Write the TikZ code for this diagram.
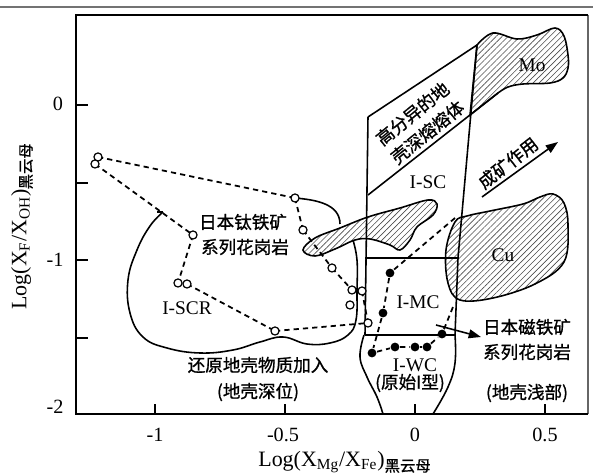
\documentclass[tikz,border=0pt]{standalone}
\usepackage{fontspec}
\setmainfont{Liberation Serif}
\newfontfamily\cjk[FakeBold=1]{Noto Sans CJK SC}
\usetikzlibrary{patterns.meta,arrows.meta}

\begin{document}
\begin{tikzpicture}[x=0.02cm, y=-0.02cm, line width=0.9pt,
  hatch/.style={pattern={Lines[angle=45,distance=2.4pt,line width=0.35pt]}, pattern color=black!70},
  opnode/.style={circle, draw, fill=white, line width=0.7pt, inner sep=0pt, minimum size=4.6pt},
  filnode/.style={circle, fill=black, inner sep=0pt, minimum size=5pt},
  trend/.style={dash pattern=on 3pt off 2.3pt, line width=1pt},
  zh/.style={font=\cjk\fontsize{10}{12}\selectfont, inner sep=0pt},
  field/.style={font=\fontsize{11}{13}\selectfont, inner sep=0pt},
  num/.style={font=\fontsize{11.5}{13}\selectfont, inner sep=0pt}]
  \useasboundingbox (0,0) rectangle (593,473);

  % page rule and frame
  \draw[black!55, line width=0.8pt] (0,7) -- (593,7);
  \draw[black!60, line width=0.6pt] (588,15) -- (588,414);
  \draw[line width=1.6pt] (588,414) -- (76,414) -- (76,15) -- (588,15);
  \foreach \y in {105,183,260,338} \draw (76,\y) -- (88,\y);
  \foreach \x in {155,285,415,545} \draw (\x,414) -- (\x,404);

  % axis numbers
  \node[num] (y0) at (58,104) {0};
  \node[num] (y1) at (55,260) {-1};
  \node[num] (y2) at (55,407) {-2};
  \foreach \x/\t [count=\i] in {155/-1, 283/-0.5, 415/0, 545/0.5}
    \node[num] (x\i) at (\x,435) {\t};
  \node[font=\fontsize{12.5}{14}\selectfont] (xlab) at (345,462)
    {Log(X\textsubscript{Mg}/X\textsubscript{Fe})\textsubscript{\cjk 黑云母}};
  \node[font=\fontsize{12.5}{14}\selectfont, rotate=90] (ylab) at (22,226)
    {Log(X\textsubscript{F}/X\textsubscript{OH})\textsubscript{\cjk 黑云母}};

  % hatched fields
  \draw[hatch] plot[smooth, tension=0.6] coordinates {(477,45) (493,33) (517,39)
    (537,35) (555,28) (564,36) (568,55) (568,68) (563,78) (550,83) (523,84)
    (508,87) (498,93)} -- (470,115) -- cycle;
  \draw[hatch] plot[smooth cycle, tension=0.6] coordinates {(455,222) (467,216)
    (490,211) (523,204) (540,197) (553,194) (564,203) (568,225) (564,262)
    (535,284) (493,298) (460,300) (448,283) (446,250)};
  \draw[hatch] plot[smooth cycle, tension=0.6] coordinates {(303,250) (315,238)
    (340,228) (368,217) (400,208) (428,200) (437,204) (433,215) (417,227)
    (410,240) (400,250) (390,245) (370,239) (355,240) (335,249) (315,256)};

  % field boundaries
  \draw (368,117) -- (365,335);
  \draw (477,45) -- (458,258) -- (455,335);
  \draw (368,117) -- (477,45);
  \draw (368,195) -- (498,93);
  \draw (365,258) -- (458,258);
  \draw (365,335) -- (455,335);
  \draw plot[smooth, tension=0.7] coordinates {(364,335) (360,357) (367,377) (377,397) (383,414)};
  \draw plot[smooth, tension=0.7] coordinates {(455,335) (455,363) (448,387) (433,414)};
  \draw (157,212) -- (163,212);
  \draw plot[smooth, tension=0.7] coordinates {(163,212) (150,226) (137,250)
    (128,280) (130,313) (143,337) (167,348) (200,353) (233,350) (260,342)
    (283,337) (307,344) (330,343) (348,335) (356,320) (357,290) (357,260) (353,240)};

  % ilmenite-series samples
  \foreach \n/\x/\y in {1/98/157, 2/95/164, 3/295/198, 4/193/235, 5/178/283,
    6/187/284, 7/275/331, 8/303/230, 9/332/268, 10/352/290, 11/362/291,
    12/350/305, 13/368/323}
    \coordinate (o\n) at (\x,\y);
  \draw (o3) to[out=-5, in=90] (340,224);
  \foreach \a/\b in {1/3, 2/4, 4/5, 6/7, 7/13, 3/8, 8/9, 9/10, 11/13}
    \draw[trend] (o\a) -- (o\b);
  \foreach \n in {1,...,13} \node[opnode] at (o\n) {};

  % magnetite-series samples
  \foreach \n/\x/\y in {1/390/273, 2/383/313, 3/372/353, 4/395/347,
    5/415/347, 6/427/347, 7/442/334}
    \node[filnode] (f\n) at (\x,\y) {};
  \coordinate (fup) at (455,218);
  \coordinate (fend) at (453,307);
  \draw[trend] (fup) -- (f1) -- (f2) -- (f3) -- (f4) -- (f5) -- (f6) -- (f7) -- (fend);
  \coordinate (mtail) at (436,325);
  \coordinate (mtip) at (481,337);
  \draw[-{Triangle[length=7pt,width=5pt]}] (mtail) -- (mtip);

  % ore-forming trend
  \coordinate (oretail) at (482,197);
  \coordinate (oretip) at (558,142);
  \draw[-{Triangle[length=7pt,width=5pt]}] (oretail) -- (oretip);

  % labels
  \node[zh] (il1) at (243,222) {日本钛铁矿};
  \node[zh] (il2) at (245,247) {系列花岗岩};
  \node[field] (iscr) at (187,308) {I-SCR};
  \node[zh] (red1) at (258,365) {还原地壳物质加入};
  \node[zh] (red2) at (258,392) {(地壳深位)};
  \node[field] (isc) at (428,182) {I-SC};
  \node[field] (imc) at (418,302) {I-MC};
  \node[field] (iwc) at (415,365) {I-WC};
  \node[zh] (iwc2) at (410,383) {(原始I型)};
  \node[zh] (mag1) at (527,327) {日本磁铁矿};
  \node[zh] (mag2) at (527,352) {系列花岗岩};
  \node[zh] (shal) at (527,393) {(地壳浅部)};
  \node[field] (cu) at (503,255) {Cu};
  \node[field] (mo) at (532,65) {Mo};
  \node[zh, rotate=39, align=center, font=\cjk\fontsize{10}{13.5}\selectfont]
    (melt) at (420,123) {高分异的地\\壳深熔熔体};
  \node[zh, rotate=38] (ore) at (508,163) {成矿作用};
\end{tikzpicture}
\end{document}
